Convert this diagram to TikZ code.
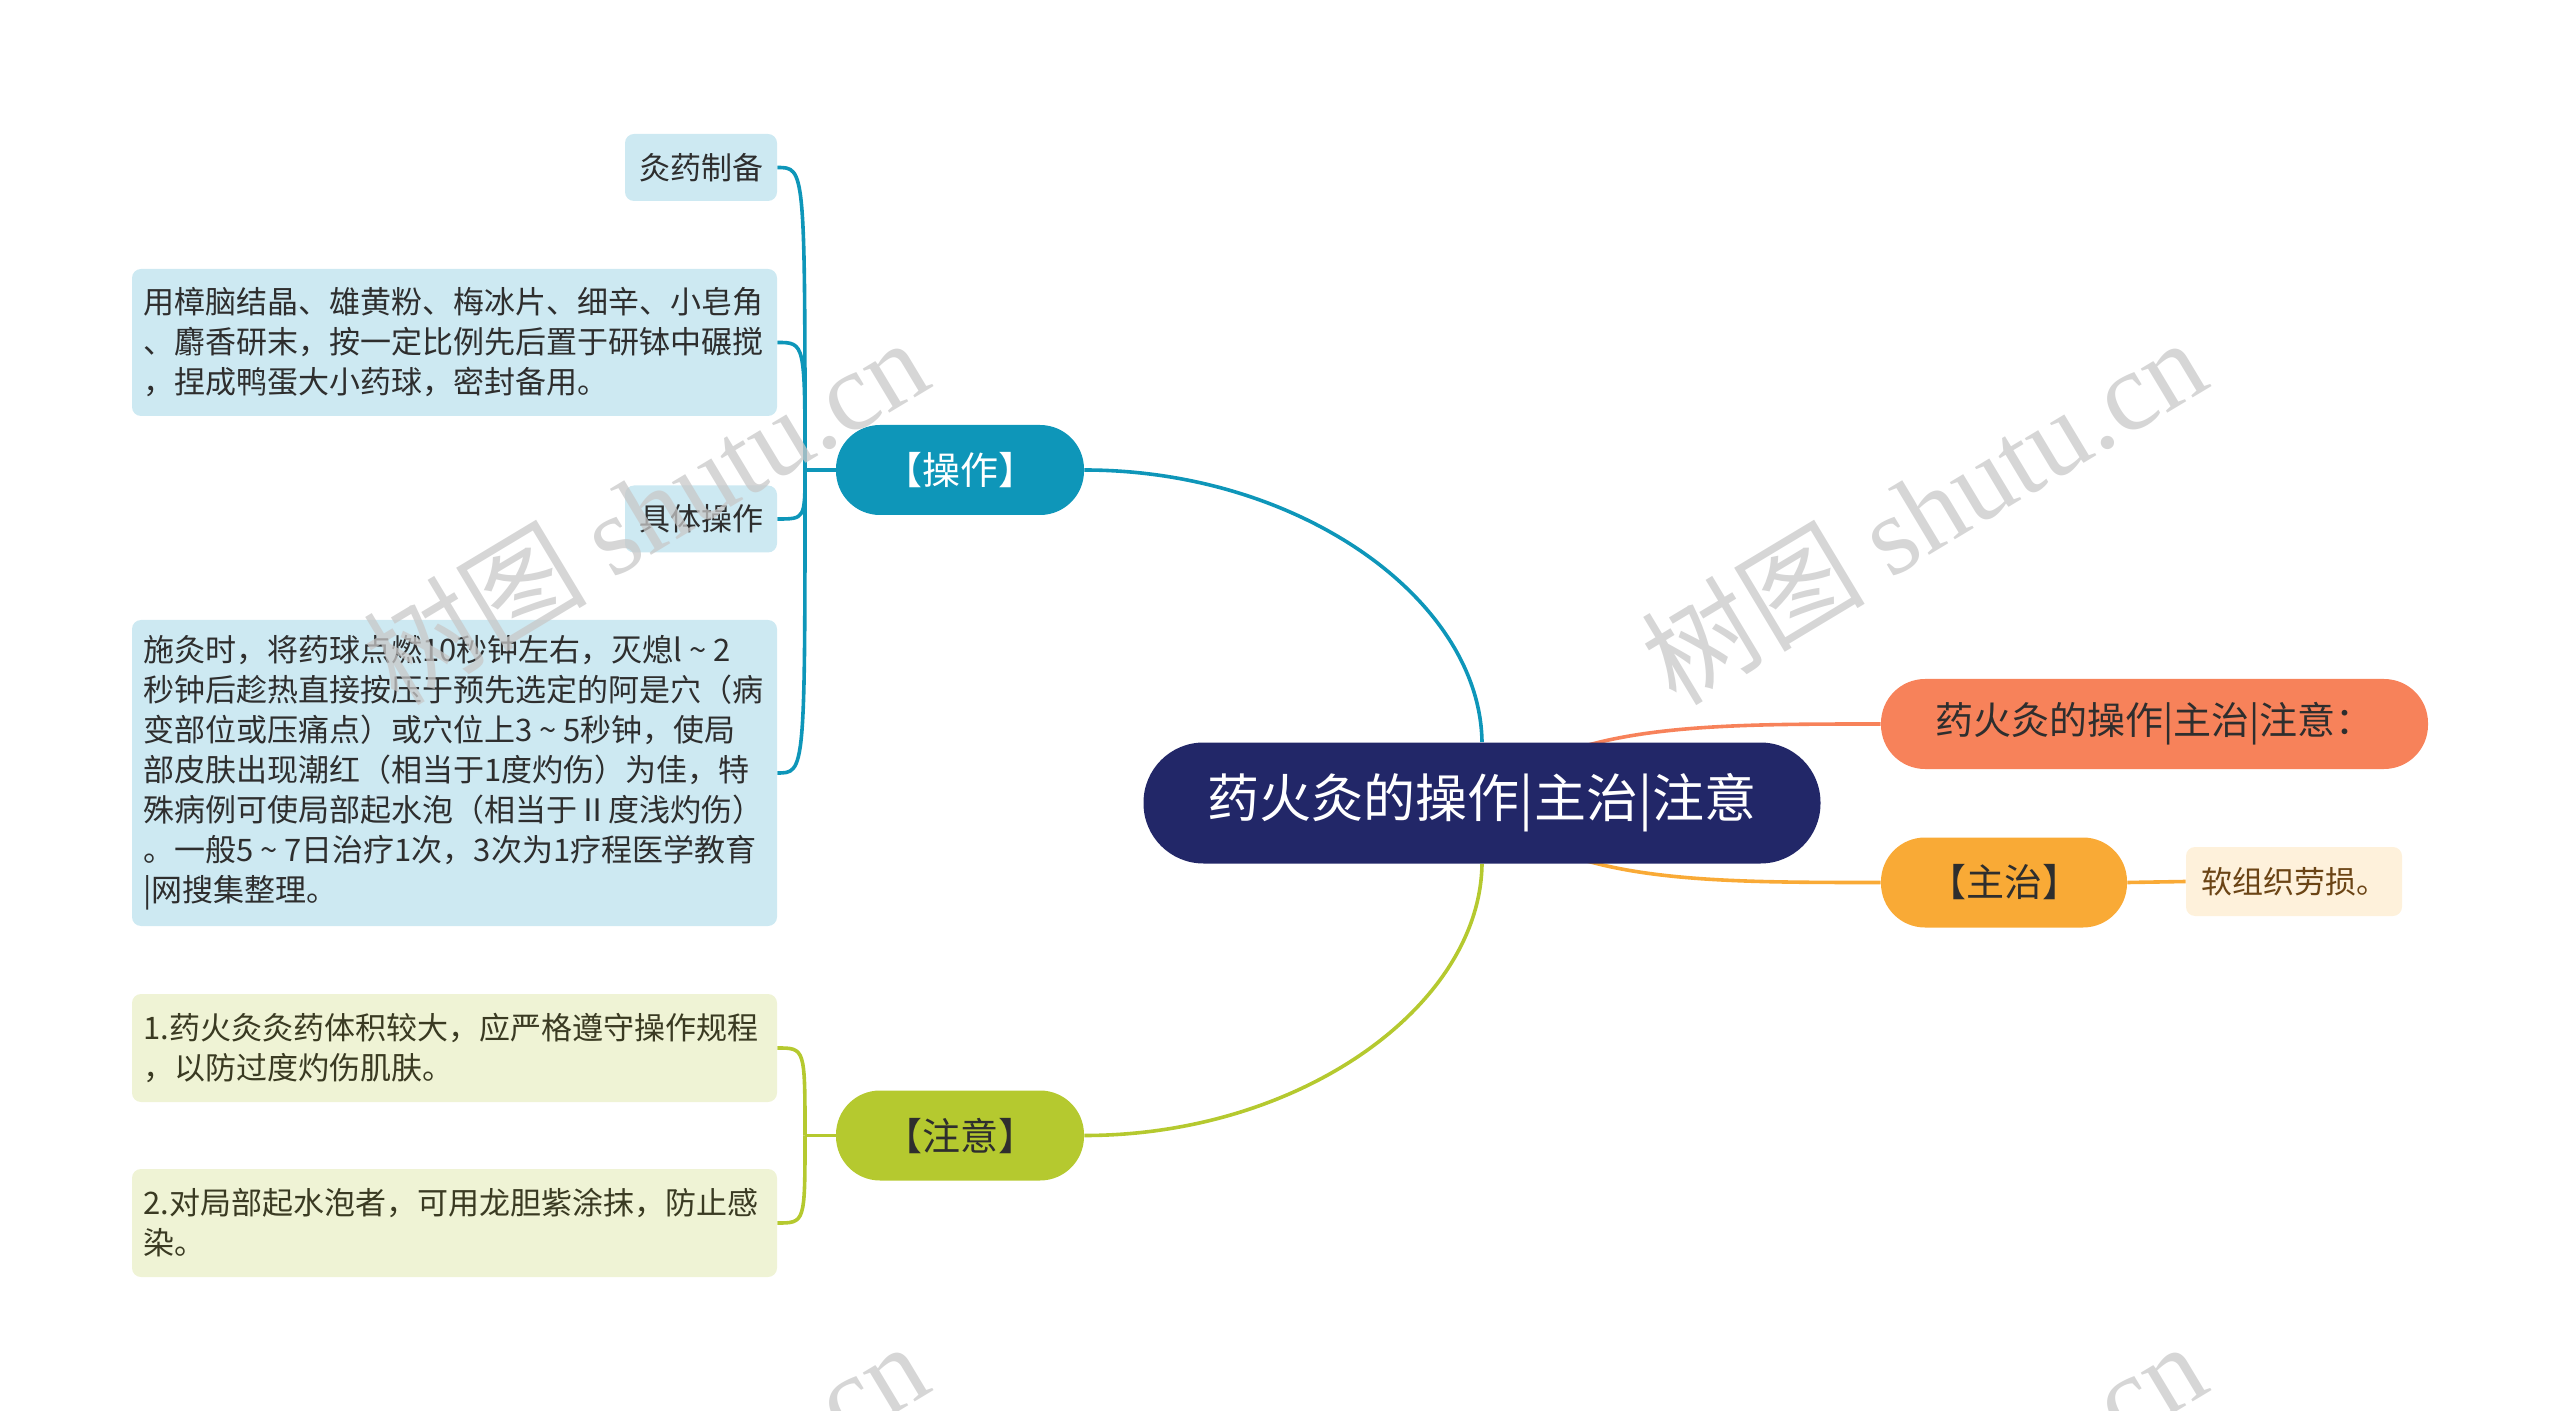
\documentclass[tikz,border=0pt]{standalone}
\usepackage{fontspec}
\setmainfont{Noto Sans CJK SC}
\newfontfamily\wmlatin{Liberation Serif}
\usetikzlibrary{calc}
\pgfdeclarelayer{background}
\pgfdeclarelayer{foreground}
\pgfsetlayers{background,main,foreground}
\definecolor{navy}{HTML}{222768}
\definecolor{tealc}{HTML}{0E96B9}
\definecolor{greenc}{HTML}{B5C92F}
\definecolor{salmonc}{HTML}{F7825A}
\definecolor{orangec}{HTML}{F9AA36}
\definecolor{leafblue}{HTML}{CDE9F2}
\definecolor{leafgreen}{HTML}{EFF3D5}
\definecolor{leafcream}{HTML}{FEF1DB}
\definecolor{darktext}{HTML}{2E2E2E}
\definecolor{olivetext}{HTML}{3A3A22}
\definecolor{browntext}{HTML}{6B4415}
\definecolor{wmgray}{HTML}{C8C8C8}
\newcommand\mytilde{\kern0.22em\char`\~\kern0.22em}
\begin{document}
\begin{tikzpicture}[x=0.5pt,y=-0.5pt,
  root/.style={fill=navy, text=white, rounded corners=30pt, minimum width=338.5pt,
    minimum height=60.5pt, inner sep=0pt, font=\fontsize{26pt}{30pt}\selectfont},
  mainnode/.style={rounded corners=22pt, minimum height=45pt, inner sep=0pt,
    font=\fontsize{19pt}{22pt}\selectfont},
  leaf/.style={rounded corners=4.5pt, inner sep=0pt, text=darktext,
    font=\fontsize{15.5pt}{20pt}\selectfont},
  smallleaf/.style={leaf, minimum width=76pt, minimum height=33.5pt},
  bigleaf/.style={leaf, minimum width=322.5pt, text width=311pt, align=left},
  tealline/.style={draw=tealc, line width=1.8pt},
  greenline/.style={draw=greenc, line width=1.8pt},
  salmonline/.style={draw=salmonc, line width=1.8pt},
  orangeline/.style={draw=orangec, line width=1.8pt},
  watermark/.style={rotate=31, text=wmgray, opacity=0.75, font=\fontsize{56pt}{56pt}\selectfont}
]
\useasboundingbox (0,0) rectangle (2560,1411);

% root and main branches
\node[root] (c) at (1482,803) {药火灸的操作|主治|注意};
\node[mainnode, fill=tealc, text=white, minimum width=124pt] (op) at (960,470) {【操作】};
\node[mainnode, fill=greenc, text=darktext, minimum width=124pt] (zy) at (960,1135.5) {【注意】};
\node[mainnode, fill=salmonc, text=darktext, minimum width=273.5pt] (zs) at (2154.5,724) {药火灸的操作|主治|注意：};
\node[mainnode, fill=orangec, text=darktext, minimum width=123pt] (zz) at (2004,882.5) {【主治】};

% leaves
\node[leaf, fill=leafcream, text=browntext, minimum width=108pt, minimum height=34.5pt] (rs) at (2294,881.5) {软组织劳损。};
\node[smallleaf, fill=leafblue] (l1) at (701,167.5) {灸药制备};
\node[bigleaf, fill=leafblue, minimum height=73.5pt] (l2) at (454.5,342.5) {用樟脑结晶、雄黄粉、梅冰片、细辛、小皂角\\、麝香研末，按一定比例先后置于研钵中碾搅\\，捏成鸭蛋大小药球，密封备用。};
\node[smallleaf, fill=leafblue] (l3) at (701,519) {具体操作};
\node[bigleaf, fill=leafblue, minimum height=153pt] (l4) at (454.5,773) {施灸时，将药球点燃10秒钟左右，灭熄l\mytilde 2\\秒钟后趁热直接按压于预先选定的阿是穴（病\\变部位或压痛点）或穴位上3\mytilde 5秒钟，使局\\部皮肤出现潮红（相当于1度灼伤）为佳，特\\殊病例可使局部起水泡（相当于Ⅱ度浅灼伤）\\。一般5\mytilde 7日治疗1次，3次为1疗程医学教育\\|网搜集整理。};
\node[bigleaf, fill=leafgreen, text=olivetext, minimum height=54pt] (n1) at (454.5,1048) {1.药火灸灸药体积较大，应严格遵守操作规程\\，以防过度灼伤肌肤。};
\node[bigleaf, fill=leafgreen, text=olivetext, minimum height=54pt] (n2) at (454.5,1223) {2.对局部起水泡者，可用龙胆紫涂抹，防止感\\染。};

\coordinate (j1) at (805,470);
\coordinate (j2) at (805,1135.5);

\begin{pgfonlayer}{background}
  \draw[tealline] (op.east) .. controls (1300,470) and (1480,600) .. (c.north);
  \draw[greenline] (zy.east) .. controls (1300,1135.5) and (1480,1006) .. (c.south);
  \draw[salmonline] (c.center) .. controls (1560,724) and (1700,724) .. (zs.west);
  \draw[orangeline] (c.center) .. controls (1560,882.5) and (1700,882.5) .. (zz.west);
  \draw[orangeline] (zz.east) -- (rs.west);
  \draw[tealline] (op.west) -- (j1);
  \draw[tealline] (j1) .. controls (j1 |- l1.east) and (j1 |- l1.east) .. (l1.east);
  \draw[tealline] (j1) .. controls (j1 |- l2.east) and (j1 |- l2.east) .. (l2.east);
  \draw[tealline] (j1) .. controls (j1 |- l3.east) and (j1 |- l3.east) .. (l3.east);
  \draw[tealline] (j1) .. controls (j1 |- l4.east) and (j1 |- l4.east) .. (l4.east);
  \draw[greenline] (zy.west) -- (j2);
  \draw[greenline] (j2) .. controls (j2 |- n1.east) and (j2 |- n1.east) .. (n1.east);
  \draw[greenline] (j2) .. controls (j2 |- n2.east) and (j2 |- n2.east) .. (n2.east);
\end{pgfonlayer}

\begin{pgfonlayer}{foreground}
  \begin{scope}
    \clip (0,0) rectangle (2560,1411);
    \node[watermark] (w1) at (645,510) {树图 {\wmlatin shutu.cn}};
    \node[watermark] (w2) at (1923,510) {树图 {\wmlatin shutu.cn}};
    \node[watermark] (w3) at (645,1514) {树图 {\wmlatin shutu.cn}};
    \node[watermark] (w4) at (1923,1514) {树图 {\wmlatin shutu.cn}};
  \end{scope}
\end{pgfonlayer}
\end{tikzpicture}
\end{document}
